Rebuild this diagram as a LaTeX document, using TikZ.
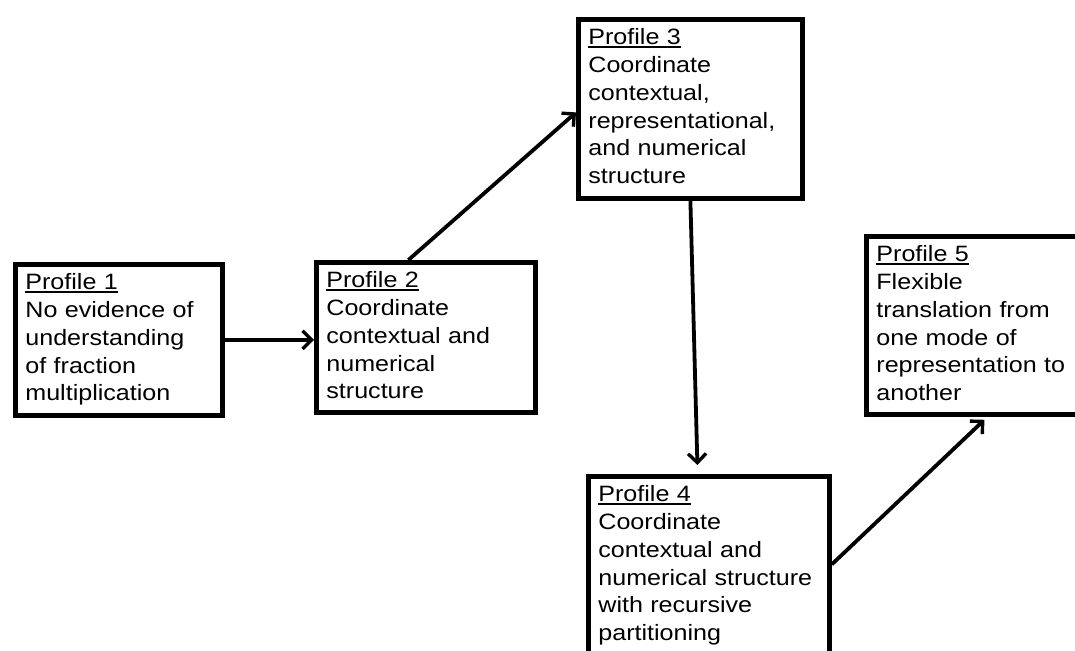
\documentclass[tikz,border=0pt]{standalone}
\usepackage{fontspec}
\setmainfont{Liberation Sans}[FakeStretch=1.13]
\usetikzlibrary{arrows.meta}
\newcommand{\prof}[1]{\setbox0\hbox{#1}\rlap{\rule[-1.4pt]{\wd0}{0.75pt}}\box0}
\tikzset{
  box/.style={draw, line width=2.4pt, fill=white, rectangle, inner sep=0pt, anchor=north west},
  txt/.style={anchor=base west, inner sep=0pt, text width=118pt, align=left,
              font=\fontsize{11.1}{13.85}\selectfont},
  conn/.style={line width=1.9pt, -{Straight Barb[length=4.5pt,width=9pt,line width=1.7pt]}}
}
\begin{document}
\begin{tikzpicture}[x=0.5pt,y=-0.5pt]
\path[use as bounding box] (0,0) rectangle (1075,651);
\clip (0,0) rectangle (1075,651);
% boxes
\node[box, minimum width=103.5pt, minimum height=75.5pt] (p1) at (13,262) {};
\node[box, minimum width=109.5pt, minimum height=75pt]   (p2) at (314,260) {};
\node[box, minimum width=112pt,   minimum height=89.5pt] (p3) at (576,17) {};
\node[box, minimum width=120.5pt, minimum height=110pt]  (p4) at (586,474) {};
\node[box, minimum width=115pt,   minimum height=89pt]   (p5) at (864,234) {};
% texts
\node[txt, shift={(12,28)}] (t1) at (p1.north west)
  {\prof{Profile 1}\\No evidence of\\understanding\\of fraction\\multiplication};
\node[txt, shift={(12,28)}] (t2) at (p2.north west)
  {\prof{Profile 2}\\Coordinate\\contextual and\\numerical\\structure};
\node[txt, shift={(12,28)}] (t3) at (p3.north west)
  {\prof{Profile 3}\\Coordinate\\contextual,\\representational,\\and numerical\\structure};
\node[txt, shift={(12,28)}] (t4) at (p4.north west)
  {\prof{Profile 4}\\Coordinate\\contextual and\\numerical structure\\with recursive\\partitioning};
\node[txt, shift={(12,28)}] (t5) at (p5.north west)
  {\prof{Profile 5}\\Flexible\\translation from\\one mode of\\representation to\\another};
% connectors
\draw[conn] (p1.east) -- (p1.east -| p2.west);
\draw[conn] ([xshift=-8.75pt]p2.north) -- ([yshift=-1.75pt]p3.west);
\draw[conn] (p3.south) -- ([xshift=-5.75pt,yshift=4.5pt]p4.north);
\draw[conn] ([yshift=11pt]p4.east) -- ([xshift=1.5pt,yshift=-1.5pt]p5.south);
\end{tikzpicture}
\end{document}
